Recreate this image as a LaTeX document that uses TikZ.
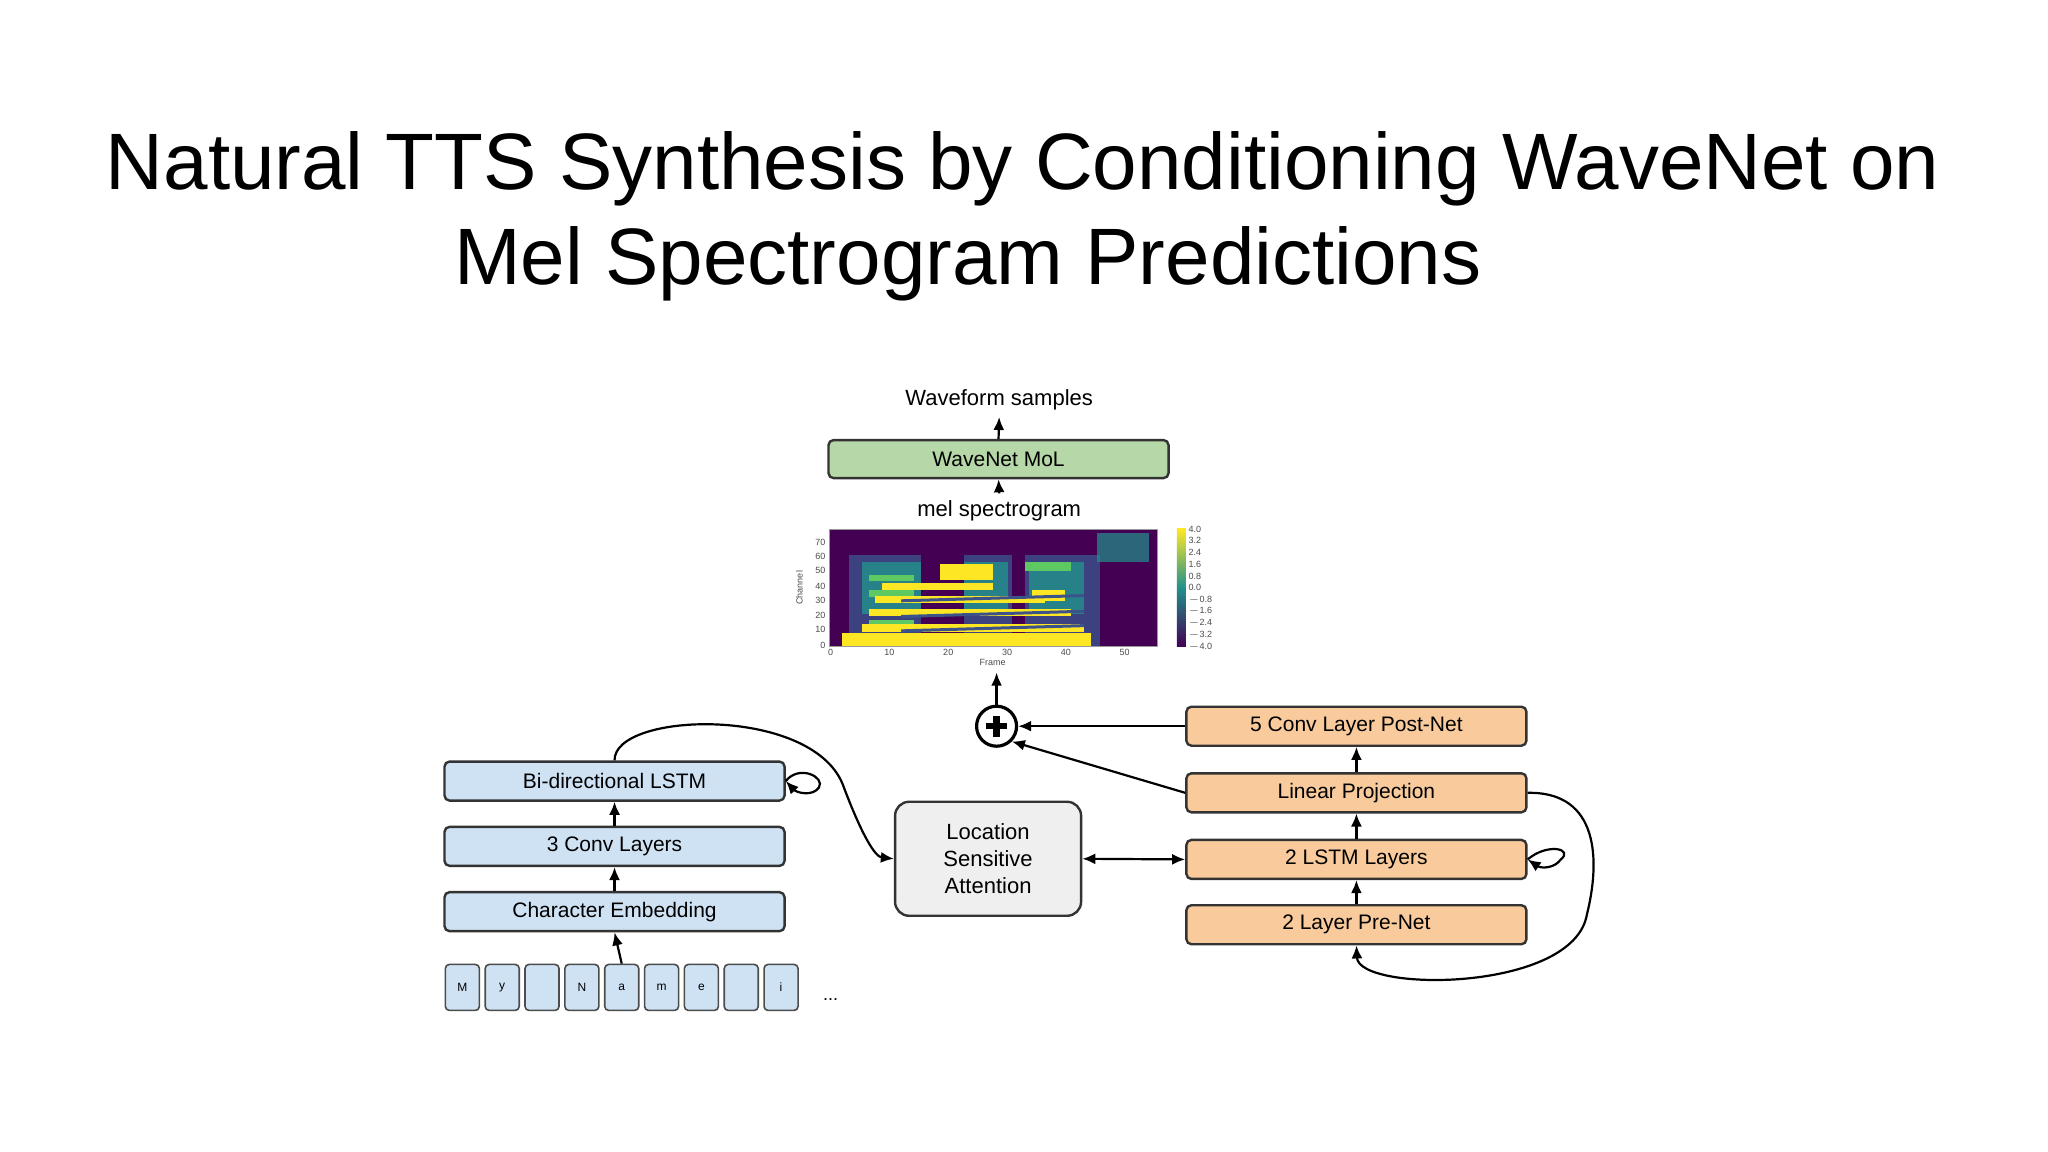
\documentclass[tikz,border=0pt]{standalone}
\usepackage{fontspec}
\setmainfont{Liberation Sans}
\usetikzlibrary{arrows.meta}
\definecolor{vp}{RGB}{68,1,84}
\definecolor{vg}{RGB}{33,145,140}\definecolor{vb}{RGB}{59,82,139}\definecolor{vy}{RGB}{253,231,37}\definecolor{vl}{RGB}{94,201,98}
\definecolor{bfill}{RGB}{207,226,243}
\definecolor{ofill}{RGB}{249,203,156}
\definecolor{gfill}{RGB}{182,215,168}
\definecolor{afill}{RGB}{239,239,239}
\begin{document}
\begin{tikzpicture}[x=0.653pt,y=-0.653pt,
 box/.style={draw=black!80,line width=1.2pt,rounded corners=2.5pt,inner sep=0pt,font=\fontsize{10.5}{12}\selectfont},
 blue/.style={box,fill=bfill},
 orng/.style={box,fill=ofill},
 ch/.style={draw=black!70,line width=0.8pt,rounded corners=2pt,fill=bfill,minimum width=17pt,minimum height=23pt,inner sep=0pt,font=\fontsize{6}{7}\selectfont},
 ar/.style={-{Latex[length=6.5pt,width=5.5pt]},line width=1.1pt},
 tk/.style={font=\fontsize{4.5}{5}\selectfont,inner sep=0.5pt,text=black!70}]
\useasboundingbox (0,0) rectangle (1568,882);
\fill[white] (0,0) rectangle (1568,882);
\node (t1) at (783,129) {\fontsize{40}{44}\selectfont Natural TTS Synthesis by Conditioning WaveNet on};
\node (t2) at (741,202) {\fontsize{40}{44}\selectfont Mel Spectrogram Predictions};
\node[font=\fontsize{11}{13}\selectfont] (wf) at (765,306) {Waveform samples};
\node[box,fill=gfill,minimum width=170pt,minimum height=19pt] (wn) at (764.5,351.5) {WaveNet MoL};
\node[font=\fontsize{11}{13}\selectfont] (mel) at (765,391) {mel spectrogram};
\draw[ar] (wn.north) -- (wf.south);
\draw[ar] (mel.north) -- (wn.south);
% spectrogram
\begin{scope}
\clip (635,405) rectangle (886,495);
\fill[vp] (635,405) rectangle (886,495);
\foreach \a/\b in {650/705,738/775,785/842}{\fill[vb,opacity=.8] (\a,425) rectangle (\b,495);}
\foreach \a/\b in {660/705,738/772,788/830}{\fill[vg,opacity=.8] (\a,430) rectangle (\b,470);}
\fill[vg,opacity=.7] (840,408) rectangle (880,430);
\foreach \y in {440,452,475}{\fill[vl] (665,\y) rectangle (700,\y+5);}
\fill[vy] (720,432) rectangle (760,444);
\fill[vl] (785,430) rectangle (820,437);
\fill[vy] (790,452) rectangle (815,460);
\fill[vy] (645,485) rectangle (835,495);
\foreach \y/\l/\r in {478/660/830,466/665/820,456/670/800,446/675/760}{\fill[vy] (\l,\y) rectangle (\r,\y+6);}
\foreach \y in {460,472,483}{\draw[vb,line width=1.5pt] (690,\y) -- (830,\y-4);}
\end{scope}
\draw[black!40,line width=0.3pt] (635,405) rectangle (886,495);
\foreach \v/\y in {0/494,10/482,20/471,30/460,40/449,50/437,60/426,70/415}{\node[tk,anchor=east] (cy\v) at (633,\y) {\v};}
\node[tk,rotate=90] (chl) at (612,450) {Channel};
\foreach \v/\x in {0/636,10/681,20/726,30/771,40/816,50/861}{\node[tk,anchor=north] (fx\v) at (\x,496) {\v};}
\node[tk] (frl) at (760,507) {Frame};
\shade[top color=vy,bottom color=vp,middle color=vg] (901,405) rectangle (908,495);
\foreach \v [count=\i from 0] in {4.0,3.2,2.4,1.6,0.8,0.0,$-$0.8,$-$1.6,$-$2.4,$-$3.2,$-$4.0}{\node[tk,anchor=west] (cb\i) at (909,405+\i*9) {\v};}
% plus
\node[draw,circle,line width=1.6pt,minimum size=20pt,inner sep=0pt] (pl) at (763,556) {};
\fill (pl.center) ++(-8,-2.5) rectangle ++(16,5);
\fill (pl.center) ++(-2.5,-8) rectangle ++(5,16);
\coordinate (spb) at (763,515);
\draw[ar] (pl.north) -- (spb);
% orange
\foreach \n/\t/\y in {pn/5 Conv Layer Post-Net/556,lp/Linear Projection/607,ls/2 LSTM Layers/658,pr/2 Layer Pre-Net/708}
 {\node[orng,minimum width=170pt,minimum height=19.5pt] (\n) at (1038.5,\y) {\t};}
\draw[ar] (pn.west) -- (pl.east);
\draw[ar] (lp.west) -- (pl.south east);
\draw[ar] (pr.north) -- (ls.south);
\draw[ar] (ls.north) -- (lp.south);
\draw[ar] (lp.north) -- (pn.south);
\draw[ar] (lp.east) .. controls (1225,606) and (1225,660) .. (1215,700) .. controls (1205,760) and (1040,760) .. (pr.south);
\draw[ar] (ls.east) .. controls (1185,645) and (1205,650) .. (1195,658) .. controls (1190,665) and (1180,665) .. (ls.east);
% blue
\foreach \n/\t/\y in {bl/Bi-directional LSTM/598,cv/3 Conv Layers/648,ce/Character Embedding/698}
 {\node[blue,minimum width=170pt,minimum height=19.5pt] (\n) at (470.5,\y) {\t};}
\draw[ar] (ce.north) -- (cv.south);
\draw[ar] (cv.north) -- (bl.south);
\draw[ar] (bl.east) .. controls (612,585) and (632,595) .. (627,603) .. controls (622,610) and (610,607) .. (bl.east);
% attention
\node[box,fill=afill,rounded corners=7pt,minimum width=93pt,minimum height=57pt,align=center,font=\fontsize{11}{13.5}\selectfont] (at) at (756.5,657.5) {Location\\Sensitive\\Attention};
\draw[ar] (bl.north) .. controls (470,545) and (620,540) .. (645,600) .. controls (660,640) and (670,656) .. (at.west);
\draw[{Latex[length=6.5pt,width=5.5pt]}-{Latex[length=6.5pt,width=5.5pt]},line width=1.1pt] (at.east) -- (ls.west);
% chars
\foreach \c [count=\i from 0] in {M,y,{},N,a,m,e,{},i}{\node[ch] (c\i) at (354+\i*30.5,756) {\c};}
\node (dots) at (636,765) {\fontsize{9}{10}\selectfont ...};
\draw[ar] (c4.north) -- (ce.south);
\end{tikzpicture}
\end{document}
